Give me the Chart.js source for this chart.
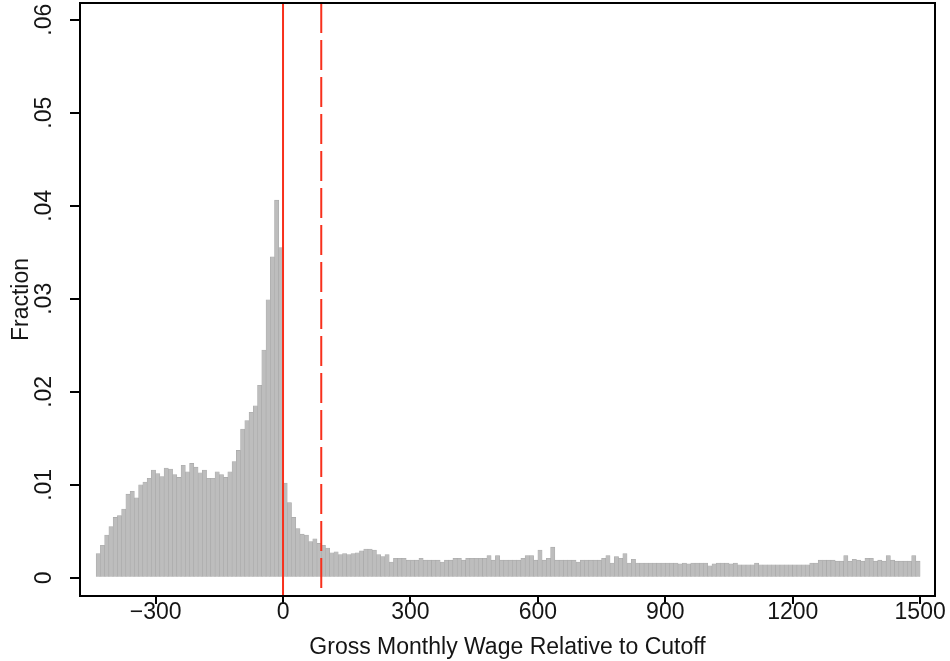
<!DOCTYPE html>
<html>
<head>
<meta charset="utf-8">
<script src="https://cdn.jsdelivr.net/npm/chart.js@4/dist/chart.umd.min.js"></script>
<style>
  html, body { margin: 0; padding: 0; background: #fff; }
  #wrap { width: 950px; height: 661px; position: relative; }
</style>
</head>
<body>
<div id="wrap"><canvas id="hist"></canvas></div>
<script>
// Histogram bins: left edge of the first bin and bin width (wage units)
const binLeft = -440;
const binWidth = 10;

// Fraction of observations per bin, from -440 up to 1500
const fractions = [
    0.0026, 0.0035, 0.0046, 0.0055, 0.0065, 0.0067, 0.0074, 0.0090, 0.0093, 0.0086,
    0.0100, 0.0103, 0.0107, 0.0116, 0.0112, 0.0109, 0.0118, 0.0117, 0.0111, 0.0108,
    0.0121, 0.0114, 0.0123, 0.0119, 0.0113, 0.0116, 0.0107, 0.0107, 0.0114, 0.0111,
    0.0108, 0.0114, 0.0125, 0.0137, 0.0160, 0.0169, 0.0178, 0.0185, 0.0207, 0.0245,
    0.0299, 0.0345, 0.0406, 0.0355,
    // from the cutoff upwards
    0.0102, 0.0081, 0.0065, 0.0053, 0.0047, 0.0046, 0.0039, 0.0042, 0.0037, 0.0035,
    0.0032, 0.0027, 0.0028, 0.0025, 0.0026, 0.0025, 0.0026, 0.0027, 0.0029, 0.0031,
    0.0031, 0.0030, 0.0025, 0.0023, 0.0025, 0.0017, 0.0021, 0.0021, 0.0021, 0.0019,
    0.0019, 0.0019, 0.0021, 0.0019, 0.0019, 0.0019, 0.0019, 0.0017, 0.0019, 0.0019,
    0.0021, 0.0021, 0.0019, 0.0021, 0.0021, 0.0021, 0.0021, 0.0021, 0.0024, 0.0019,
    0.0024, 0.0019, 0.0019, 0.0019, 0.0019, 0.0019, 0.0021, 0.0024, 0.0024, 0.0019,
    0.0030, 0.0019, 0.0021, 0.0033, 0.0019, 0.0019, 0.0019, 0.0019, 0.0019, 0.0017,
    0.0019, 0.0019, 0.0019, 0.0019, 0.0019, 0.0021, 0.0024, 0.0016, 0.0023, 0.0021,
    0.0026, 0.0016, 0.0020, 0.0016, 0.0016, 0.0016, 0.0016, 0.0016, 0.0016, 0.0016,
    0.0016, 0.0016, 0.0016, 0.0015, 0.0016, 0.0015, 0.0016, 0.0016, 0.0016, 0.0016,
    0.0013, 0.0015, 0.0016, 0.0016, 0.0016, 0.0015, 0.0016, 0.0014, 0.0014, 0.0014,
    0.0014, 0.0016, 0.0014, 0.0014, 0.0014, 0.0014, 0.0014, 0.0014, 0.0014, 0.0014,
    0.0014, 0.0014, 0.0014, 0.0014, 0.0016, 0.0016, 0.0019, 0.0019, 0.0019, 0.0019,
    0.0018, 0.0018, 0.0024, 0.0018, 0.0020, 0.0019, 0.0018, 0.0021, 0.0021, 0.0018,
    0.0019, 0.0018, 0.0024, 0.0019, 0.0018, 0.0018, 0.0018, 0.0018, 0.0024, 0.0018
];

// Reference lines: cutoff (solid) and upper threshold (dashed)
const cutoffLine = 0;
const thresholdLine = 90;

// Axis ticks
const xTicks = [-300, 0, 300, 600, 900, 1200, 1500];
const yTicks = [0, 0.01, 0.02, 0.03, 0.04, 0.05, 0.06];
const yTickLabels = ['0', '.01', '.02', '.03', '.04', '.05', '.06'];

const X_MIN = -478, X_MAX = 1535;
const Y_MIN = -0.00195, Y_MAX = 0.0618;

const FONT = "'Liberation Sans', Arial, Helvetica, sans-serif";
const TEXT = '#151515';
const RED = '#f8301c';

const barData = fractions.map((f, i) => ({ x: binLeft + binWidth * (i + 0.5), y: f }));

function vline(x) {
    return [{ x: x, y: Y_MAX }, { x: x, y: Y_MIN }];
}

// Box around the plot region and rotated y tick labels
const framePlugin = {
    id: 'frame',
    afterDraw(chart) {
        const { ctx, chartArea: a, scales } = chart;
        ctx.save();
        ctx.strokeStyle = '#000';
        ctx.lineWidth = 2;
        ctx.strokeRect(a.left, a.top, a.right - a.left, a.bottom - a.top);

        ctx.fillStyle = TEXT;
        ctx.font = '23px ' + FONT;
        ctx.textAlign = 'center';
        ctx.textBaseline = 'middle';
        yTicks.forEach((v, i) => {
            const py = scales.y.getPixelForValue(v);
            ctx.save();
            ctx.translate(45, py);
            ctx.rotate(-Math.PI / 2);
            ctx.fillText(yTickLabels[i], 0, 0);
            ctx.restore();
        });
        ctx.restore();
    }
};

new Chart(document.getElementById('hist'), {
    type: 'bar',
    data: {
        datasets: [
            {
                type: 'line',
                data: vline(cutoffLine),
                borderColor: RED,
                borderWidth: 2,
                pointRadius: 0,
                order: 0
            },
            {
                type: 'line',
                data: vline(thresholdLine),
                borderColor: RED,
                borderWidth: 2,
                borderDash: [30, 7],
                pointRadius: 0,
                order: 0
            },
            {
                type: 'bar',
                data: barData,
                backgroundColor: '#bdbdbd',
                borderColor: '#a8a8a8',
                borderWidth: 0.6,
                barPercentage: 1,
                categoryPercentage: 1,
                order: 1
            }
        ]
    },
    options: {
        responsive: true,
        maintainAspectRatio: false,
        animation: false,
        layout: { padding: { top: 3, right: 15, left: 0, bottom: 0 } },
        plugins: {
            legend: { display: false },
            tooltip: { enabled: false }
        },
        scales: {
            x: {
                type: 'linear',
                min: X_MIN,
                max: X_MAX,
                offset: false,
                afterBuildTicks: s => { s.ticks = xTicks.map(v => ({ value: v })); },
                afterFit: s => { s.height = 65; },
                grid: { offset: false, drawOnChartArea: false, tickLength: 8, color: '#000', lineWidth: 2 },
                border: { display: true, color: '#000', width: 2 },
                ticks: {
                    color: TEXT,
                    font: { family: FONT, size: 23, lineHeight: 1 },
                    padding: -3,
                    maxRotation: 0,
                    callback: v => (v < 0 ? '\u2212' + Math.abs(v) : String(v))
                },
                title: {
                    display: true,
                    text: 'Gross Monthly Wage Relative to Cutoff',
                    color: TEXT,
                    font: { family: FONT, size: 23, lineHeight: 1.2 },
                    padding: { top: 9, bottom: 0 }
                }
            },
            y: {
                type: 'linear',
                min: Y_MIN,
                max: Y_MAX,
                afterBuildTicks: s => { s.ticks = yTicks.map(v => ({ value: v })); },
                afterFit: s => { s.width = 80; },
                grid: { drawOnChartArea: false, tickLength: 10, color: '#000', lineWidth: 2 },
                border: { display: true, color: '#000', width: 2 },
                ticks: { display: false },
                title: {
                    display: true,
                    text: 'Fraction',
                    color: TEXT,
                    font: { family: FONT, size: 23, lineHeight: 1.2 },
                    padding: { top: 8, bottom: 0 }
                }
            }
        }
    },
    plugins: [framePlugin]
});
</script>
</body>
</html>
